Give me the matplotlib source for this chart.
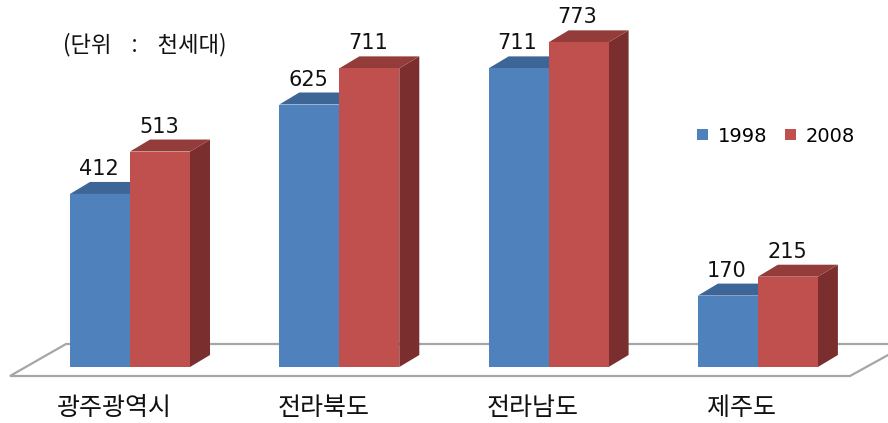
import matplotlib
matplotlib.use("Agg")
import matplotlib.pyplot as plt
from matplotlib.patches import Polygon, Patch

plt.rcParams['font.family'] = ['Noto Sans CJK KR', 'DejaVu Sans']

categories = ['광주광역시', '전라북도', '전라남도', '제주도']
series_names = ['1998', '2008']
values_1998 = [412, 625, 711, 170]
values_2008 = [513, 711, 773, 215]
unit_text = '(단위    :    천세대)'

front_colors = ['#4F81BD', '#C0504D']
top_colors = ['#3D6596', '#943C3A']
side_colors = ['#36587F', '#7A2F2E']

W, H = 888, 423
fig = plt.figure(figsize=(W / 100, H / 100), dpi=100)
ax = fig.add_axes([0, 0, 1, 1])
px_per_unit = 0.42
base_px = 367
ax.set_xlim(0, W)
ax.set_ylim((base_px - H) / px_per_unit, base_px / px_per_unit)
ax.axis('off')

# depth offsets
ddx = 20
ddy = 12 / px_per_unit

# floor
fl_front = (base_px - 376) / px_per_unit
fl_back = (base_px - 344) / px_per_unit
floor = Polygon([(10, fl_front), (850, fl_front), (908, fl_back), (66, fl_back)],
                closed=True, facecolor='white', edgecolor='#A6A6A6', lw=1.6, zorder=1)
ax.add_patch(floor)

group_start = 70
group_step = 209.3
bar_w = 60


def draw_bar(x0, v, k):
    side = Polygon([(x0 + bar_w, 0), (x0 + bar_w + ddx, ddy), (x0 + bar_w + ddx, v + ddy), (x0 + bar_w, v)],
                   closed=True, facecolor=side_colors[k], edgecolor='none', zorder=2 + k)
    top = Polygon([(x0, v), (x0 + bar_w, v), (x0 + bar_w + ddx, v + ddy), (x0 + ddx, v + ddy)],
                  closed=True, facecolor=top_colors[k], edgecolor='none', zorder=2 + k)
    ax.add_patch(side)
    ax.add_patch(top)
    ax.bar(x0, v, width=bar_w, align='edge', color=front_colors[k], edgecolor='none', zorder=2 + k)
    ax.text(x0 + bar_w / 2 - 1, v + ddy + 3 / px_per_unit, f'{v}', ha='center', va='bottom', fontsize=15,
            family=['DejaVu Sans'], color='#111111', zorder=5)


for i, cat in enumerate(categories):
    x0 = group_start + group_step * i
    draw_bar(x0, values_1998[i], 0)
    draw_bar(x0 + bar_w, values_2008[i], 1)
    ax.text(x0 + bar_w - 16, (base_px - 408) / px_per_unit, cat, ha='center', va='center',
            fontsize=18, color='#111111')

ax.text(145, (base_px - 45) / px_per_unit, unit_text, ha='center', va='center', fontsize=16, color='#111111')

handles = [Patch(facecolor=front_colors[k], label=series_names[k]) for k in range(2)]
leg = fig.legend(handles=handles, loc='center', bbox_to_anchor=(776 / W, 1 - 136 / H), ncol=2,
                 frameon=False, handlelength=0.55, handleheight=0.55, handletextpad=0.5,
                 columnspacing=0.9, prop={'family': 'DejaVu Sans', 'size': 14})

fig.savefig('out.png', dpi=100)
